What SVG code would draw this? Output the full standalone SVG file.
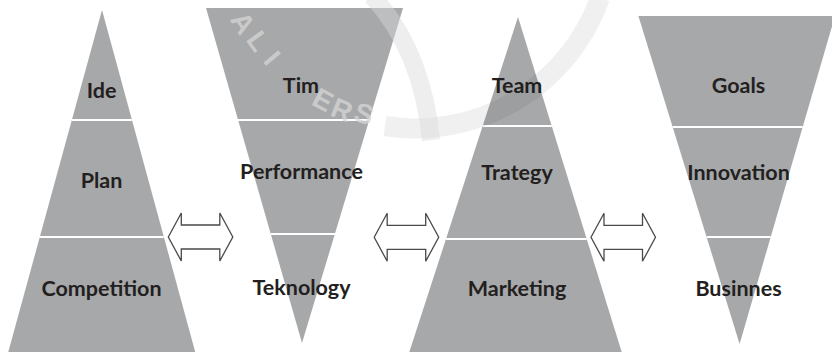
<svg xmlns="http://www.w3.org/2000/svg" width="832" height="352" viewBox="0 0 832 352">
  <style>
    .tri { fill: #a7a8aa; }
    .div { stroke: #ffffff; stroke-width: 2; }
    .lbl { font-family: Lato, "Open Sans", "Liberation Sans", sans-serif; font-weight: 700; font-size: 21.5px; fill: #231f20; text-anchor: middle; }
    .arrow { fill: #ffffff; stroke: #4a4a4a; stroke-width: 1.3; stroke-linejoin: miter; }
    .wm-band { fill: none; stroke: #000000; stroke-opacity: 0.06; stroke-width: 20; }
    .wm-light { fill: none; stroke: #d9d9d9; stroke-opacity: 0.45; stroke-width: 18; }
    .wm-text { font-family: "Liberation Sans", Arial, sans-serif; font-weight: 700; font-size: 28px; fill: #d6d6d6; fill-opacity: 0.75; text-anchor: middle; dominant-baseline: central; }
  </style>
  <defs>
    <!-- hollow double-headed arrow, 64.5 wide, tip at y=0 -->
    <path id="dblArrow" class="arrow" d="M0,0 L13,-24 L13,-12 L51.5,-12 L51.5,-24 L64.5,0 L51.5,24 L51.5,12 L13,12 L13,24 Z"/>
  </defs>

  <rect width="832" height="352" fill="#ffffff"/>

  <!-- pyramid 1: Ide / Plan / Competition -->
  <g id="pyramid-ide">
    <polygon class="tri" points="102,10 195.5,353 8,353"/>
    <line class="div" x1="71.8" y1="120" x2="131.9" y2="120"/>
    <line class="div" x1="39.6" y1="237" x2="163.7" y2="237"/>
    <text class="lbl" x="101.5" y="98">Ide</text>
    <text class="lbl" x="101.5" y="188">Plan</text>
    <text class="lbl" x="101.5" y="296">Competition</text>
  </g>

  <!-- funnel 1: Tim / Performance / Teknology -->
  <g id="funnel-tim">
    <polygon class="tri" points="206,8 403,8 302,343"/>
    <line class="div" x1="238" y1="120" x2="369.6" y2="120"/>
    <line class="div" x1="271" y1="234" x2="335.7" y2="234"/>
    <text class="lbl" x="301" y="93">Tim</text>
    <text class="lbl" x="301.5" y="179">Performance</text>
    <text class="lbl" x="301.5" y="295">Teknology</text>
  </g>

  <!-- pyramid 2: Team / Trategy / Marketing -->
  <g id="pyramid-team">
    <polygon class="tri" points="518,17 622,353 409,353"/>
    <line class="div" x1="482.5" y1="126" x2="551.8" y2="126"/>
    <line class="div" x1="445.8" y1="239" x2="586.8" y2="239"/>
    <text class="lbl" x="517" y="92.5">Team</text>
    <text class="lbl" x="517" y="179.5">Trategy</text>
    <text class="lbl" x="517" y="296">Marketing</text>
  </g>

  <!-- funnel 2: Goals / Innovation / Businnes -->
  <g id="funnel-goals">
    <polygon class="tri" points="638.4,16 835,16 739.6,344"/>
    <line class="div" x1="672.7" y1="127" x2="802.7" y2="127"/>
    <line class="div" x1="706.7" y1="237" x2="770.7" y2="237"/>
    <text class="lbl" x="738.5" y="92.7">Goals</text>
    <text class="lbl" x="738.5" y="179.5">Innovation</text>
    <text class="lbl" x="738.5" y="296">Businnes</text>
  </g>

  <!-- two-way links between the shapes -->
  <g id="connectors">
    <use href="#dblArrow" x="168.3" y="237"/>
    <use href="#dblArrow" x="374.2" y="237.3"/>
    <use href="#dblArrow" x="591" y="237.3"/>
  </g>

  <!-- faint seal overlay -->
  <g id="seal">
    <path class="wm-band" d="M 385,126 A 196 196 0 0 0 600,-2"/>
    <path class="wm-light" d="M 372,-4 Q 422,50 431,140"/>
    <text class="wm-text" transform="translate(243,23) rotate(58)">A</text>
    <text class="wm-text" transform="translate(258,41) rotate(54)">L</text>
    <text class="wm-text" transform="translate(272,58) rotate(50)">I</text>
    <text class="wm-text" transform="translate(323,100) rotate(28)">E</text>
    <text class="wm-text" transform="translate(342,110) rotate(22)">R</text>
    <text class="wm-text" transform="translate(364,114) rotate(17)">S</text>
  </g>
</svg>
